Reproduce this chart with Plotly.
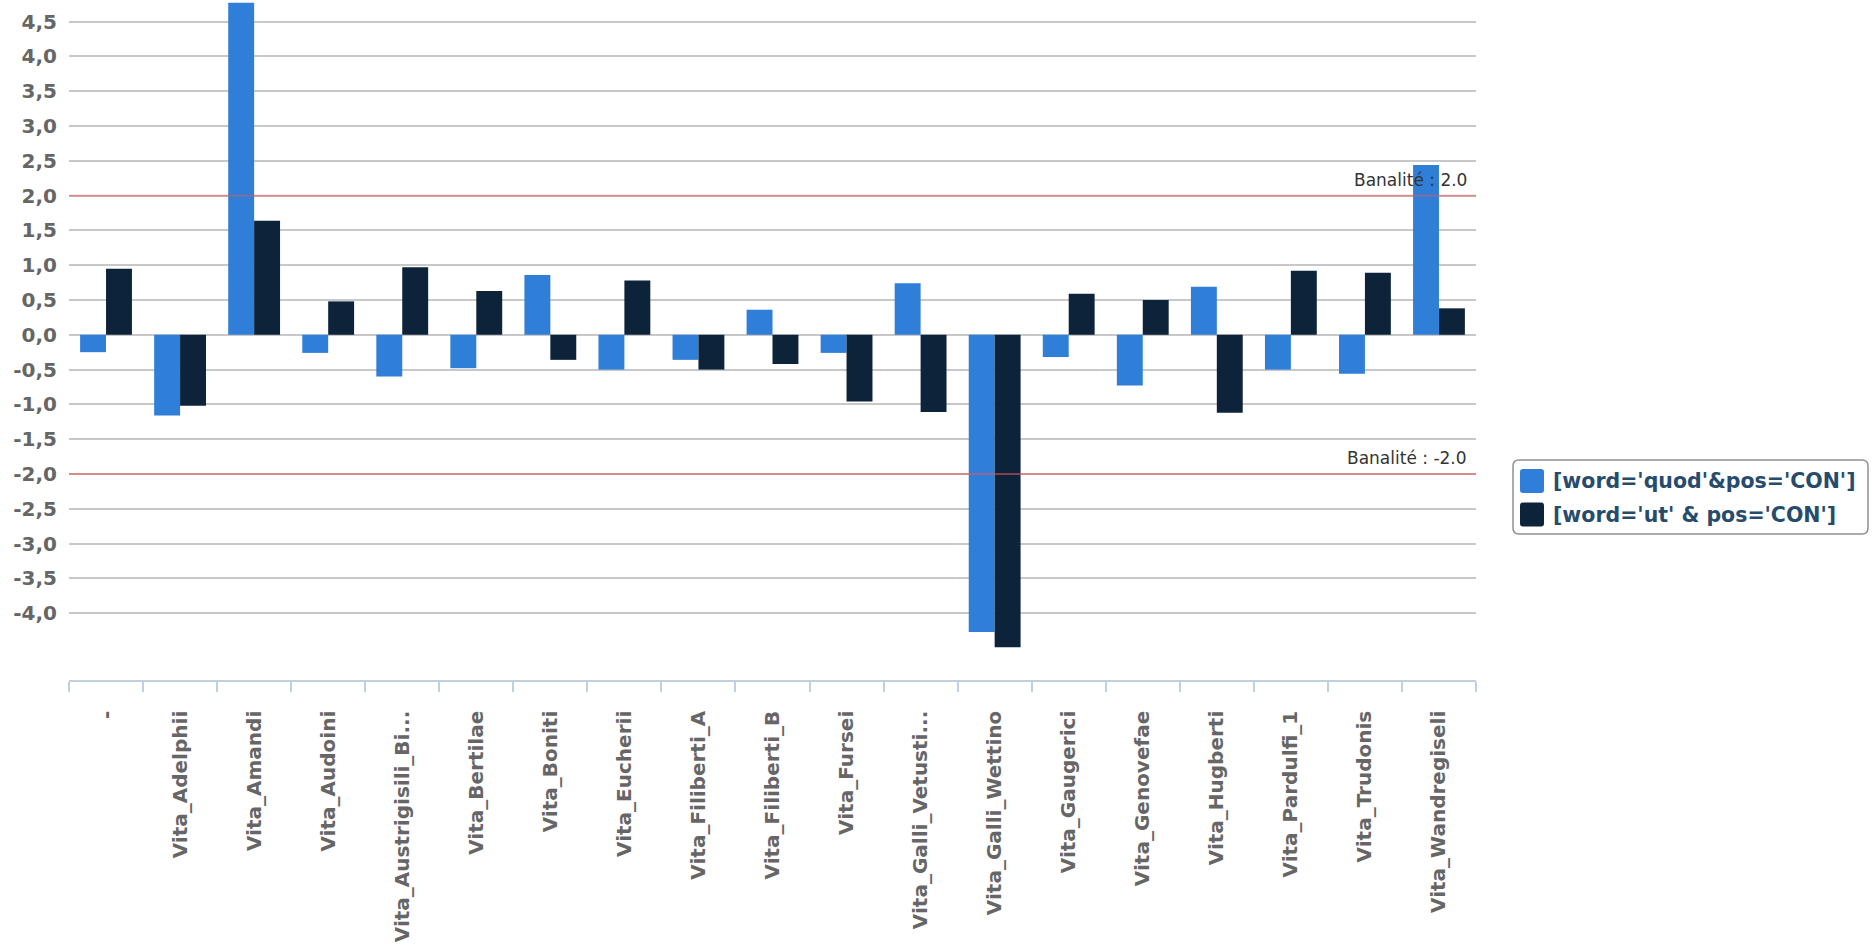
import plotly.graph_objects as go

# ---------------- data ----------------
categories = ["-", "Vita_Adelphii", "Vita_Amandi", "Vita_Audoini", "Vita_Austrigisili_Bi...",
              "Vita_Bertilae", "Vita_Boniti", "Vita_Eucherii", "Vita_Filiberti_A",
              "Vita_Filiberti_B", "Vita_Fursei", "Vita_Galli_Vetusti...", "Vita_Galli_Wettino",
              "Vita_Gaugerici", "Vita_Genovefae", "Vita_Hugberti", "Vita_Pardulfi_1",
              "Vita_Trudonis", "Vita_Wandregiseli"]
series_names = ["[word='quod'&pos='CON']", "[word='ut' & pos='CON']"]
quod = [-0.25, -1.16, 4.77, -0.26, -0.60, -0.48, 0.86, -0.50, -0.36, 0.36,
        -0.26, 0.74, -4.27, -0.32, -0.73, 0.69, -0.50, -0.56, 2.44]
ut = [0.95, -1.02, 1.64, 0.48, 0.97, 0.63, -0.36, 0.78, -0.50, -0.42,
      -0.96, -1.11, -4.49, 0.59, 0.50, -1.12, 0.92, 0.89, 0.38]
ytick_vals = [-4.0, -3.5, -3.0, -2.5, -2.0, -1.5, -1.0, -0.5, 0.0, 0.5, 1.0, 1.5, 2.0, 2.5, 3.0, 3.5, 4.0, 4.5]
ytick_text = ["-4,0", "-3,5", "-3,0", "-2,5", "-2,0", "-1,5", "-1,0", "-0,5", "0,0", "0,5",
              "1,0", "1,5", "2,0", "2,5", "3,0", "3,5", "4,0", "4,5"]
thresholds = [2.0, -2.0]

# ---------------- style ----------------
W, H = 1872, 946
PL, PR, PT, PB = 69, 1476, 0, 680  # plot area in px
colors = ["#2f7ed8", "#0d233a"]
FONT = "DejaVu Sans"


def px(x):
    return (x - PL) / (PR - PL)


def py(y):
    return (PB - y) / (PB - PT)


fig = go.Figure()
fig.add_trace(go.Bar(x=categories, y=quod, name=series_names[0], marker_color=colors[0],
                     marker_line_width=0))
fig.add_trace(go.Bar(x=categories, y=ut, name=series_names[1], marker_color=colors[1],
                     marker_line_width=0))

shapes = []
annotations = []
for t in thresholds:
    shapes.append(dict(type="line", xref="paper", yref="y", x0=0, x1=1, y0=t, y1=t,
                       line=dict(color="rgba(225,90,90,0.55)", width=1.8), layer="above"))
    annotations.append(dict(xref="paper", yref="y", x=px(1469), y=t, xanchor="right",
                            yanchor="bottom", yshift=4, showarrow=False,
                            text=f"Banalité : {t}",
                            font=dict(family=FONT, size=17, color="#333333")))


def rounded_rect(x0, y0, x1, y1, r):
    # pixel coords -> paper path with rounded corners
    def P(x, y):
        return f"{px(x)},{py(y)}"
    return (f"M {P(x0 + r, y0)} L {P(x1 - r, y0)} Q {P(x1, y0)} {P(x1, y0 + r)} "
            f"L {P(x1, y1 - r)} Q {P(x1, y1)} {P(x1 - r, y1)} L {P(x0 + r, y1)} "
            f"Q {P(x0, y1)} {P(x0, y1 - r)} L {P(x0, y0 + r)} Q {P(x0, y0)} {P(x0 + r, y0)} Z")


# legend box
shapes.append(dict(type="path", xref="paper", yref="paper", path=rounded_rect(1513, 460, 1868, 534, 6),
                   line=dict(color="#909090", width=1.5), fillcolor="white", layer="above"))
for i, name in enumerate(series_names):
    cy = 481 + i * 33.5
    shapes.append(dict(type="path", xref="paper", yref="paper",
                       path=rounded_rect(1520, cy - 12, 1544, cy + 12, 3),
                       line=dict(width=0), fillcolor=colors[i], layer="above"))
    annotations.append(dict(xref="paper", yref="paper", x=px(1551), y=py(cy), xanchor="left",
                            yanchor="middle", showarrow=False, text=name,
                            font=dict(family=FONT, size=20.5, color="#274b6d", weight="bold")))

fig.update_layout(
    width=W, height=H,
    margin=dict(l=PL, r=W - PR, t=PT, b=H - PB, pad=0),
    paper_bgcolor="white", plot_bgcolor="white",
    barmode="group", bargap=0.3, bargroupgap=0,
    showlegend=False,
    shapes=shapes, annotations=annotations,
    font=dict(family=FONT),
    xaxis=dict(type="category", showgrid=False, showline=True, linecolor="#c0d0e0", linewidth=1.5,
               ticks="outside", ticklen=10, tickcolor="#c0d0e0", tickwidth=1.5,
               tickson="boundaries", tickangle=-90, ticklabelstandoff=21,
               tickfont=dict(family=FONT, size=20, color="#666666", weight="bold"),
               range=[-0.5, len(categories) - 0.5]),
    yaxis=dict(range=[-4.96, 4.81], tickvals=ytick_vals, ticktext=ytick_text,
               showgrid=True, gridcolor="#c8c8c8", gridwidth=1.5, zeroline=False,
               showline=False, ticks="", ticklabelstandoff=11,
               tickfont=dict(family=FONT, size=20, color="#666666", weight="bold")),
)

fig.write_html("out.html", config={"displayModeBar": False},
               post_script="document.body.style.margin='0px'; document.body.style.overflow='hidden';")
